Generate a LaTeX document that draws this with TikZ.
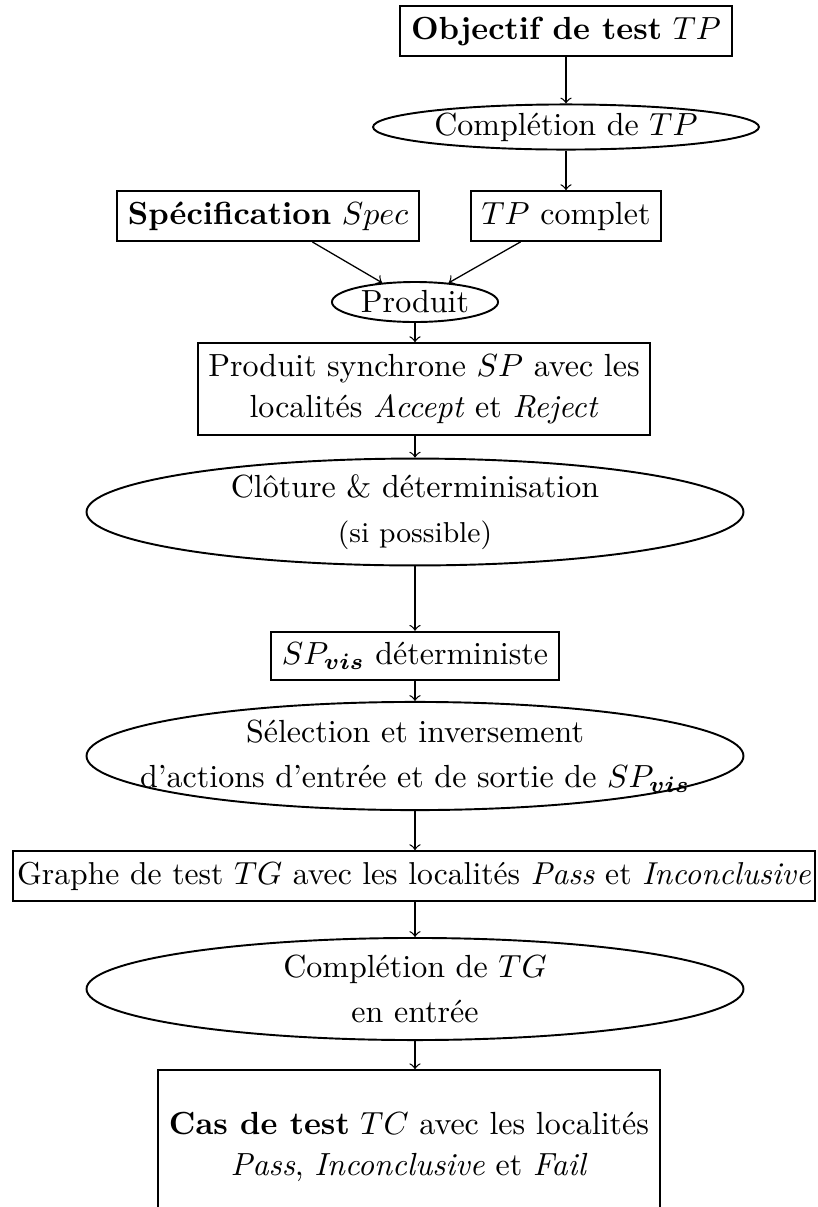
\documentclass[tikz,border=0pt]{standalone}
\usepackage{amsmath}
\usetikzlibrary{shapes.geometric}
\tikzset{
  boite/.style={draw, semithick, rectangle, align=center, font=\fontsize{10pt}{13pt}\selectfont},
  bulle/.style={draw, semithick, ellipse, inner sep=0pt, align=center, font=\fontsize{10pt}{14pt}\selectfont},
}
\begin{document}
\begin{tikzpicture}[x=0.3125pt, y=-0.3125pt]
  \useasboundingbox (0,0) rectangle (818,1207);

 \node[boite] (obj) at (566,31) {\textbf{Objectif de test} $TP$};
 \node[bulle, minimum width=120.6pt, minimum height=14.1pt] (cplTP) at (566,127) {Complétion de $TP$};
 \node[boite] (spec) at (268,216) {\textbf{Spécification} $Spec$};
 \node[boite] (tpc) at (566,216) {$TP$ complet};
 \node[bulle, minimum width=51.9pt, minimum height=12.5pt] (prod) at (415,302) {Produit};
 \node[boite] (sp) at (424,389) {Produit synchrone $SP$ avec les\\ localités \textit{Accept} et \textit{Reject}};
 \node[bulle, minimum width=205.3pt, minimum height=33.4pt] (clot) at (415,512) {Clôture \& déterminisation\\ {\small (si possible)}};
 \node[boite] (spvis) at (415,656) {$SP_{\boldsymbol{vis}}$ déterministe};
 \node[bulle, inner xsep=-40pt, minimum width=205.3pt, minimum height=33.8pt] (sel) at (415,756) {Sélection et inversement\\ d'actions d'entrée et de sortie de $SP_{\boldsymbol{vis}}$};
 \node[boite, inner xsep=1.2pt, font=\fontsize{9.9pt}{13pt}\selectfont] (tg) at (414,876) {Graphe de test $TG$ avec les localités \textit{Pass} et \textit{Inconclusive}};
 \node[bulle, minimum width=205.3pt, minimum height=31.9pt] (cplTG) at (415,989) {Complétion de $TG$\\ en entrée};
 \node[boite, minimum height=48pt] (tc) at (409,1147) {\textbf{Cas de test} $TC$ avec les localités\\ \textit{Pass}, \textit{Inconclusive} et \textit{Fail}};

 \path[->] (obj) edge (cplTP) (cplTP) edge (tpc)
 (spec) edge (prod) (tpc) edge (prod)
 (prod) edge (prod |- sp.north) (clot |- sp.south) edge (clot)
 (clot) edge (spvis) (spvis) edge (sel)
 (sel) edge (sel |- tg.north) (cplTG |- tg.south) edge (cplTG)
 (cplTG) edge (cplTG |- tc.north);

\end{tikzpicture}
\end{document}
